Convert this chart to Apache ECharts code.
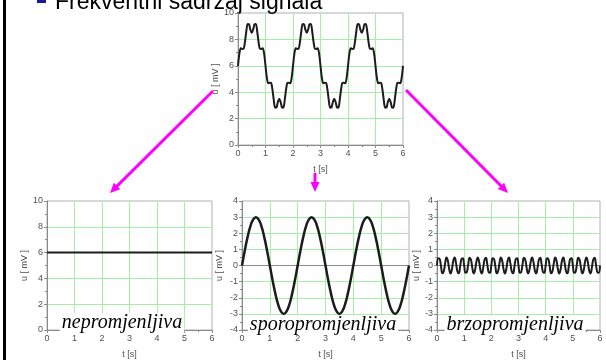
<!DOCTYPE html>
<html>
<head>
<meta charset="utf-8">
<script src="https://cdn.jsdelivr.net/npm/echarts@6/dist/echarts.min.js"></script>
<style>
  html, body { margin: 0; padding: 0; background: #fff; }
  #chart { width: 606px; height: 360px; }
</style>
</head>
<body>
<div id="chart"></div>
<script>
// Composite signal u(t) sampled every 0.05 s, 0..6 s
const compositeStep = 0.05;
const compositeU = [
  6.00, 6.92, 7.33, 7.28, 7.29, 7.77, 8.58, 9.17, 9.15, 8.74, 8.50, 8.74, 9.15, 9.17, 8.58, 7.77, 7.29, 7.28, 7.33, 6.92,
  6.00, 5.08, 4.67, 4.72, 4.71, 4.23, 3.42, 2.83, 2.85, 3.26, 3.50, 3.26, 2.85, 2.83, 3.42, 4.23, 4.71, 4.72, 4.67, 5.08,
  6.00, 6.92, 7.33, 7.28, 7.29, 7.77, 8.58, 9.17, 9.15, 8.74, 8.50, 8.74, 9.15, 9.17, 8.58, 7.77, 7.29, 7.28, 7.33, 6.92,
  6.00, 5.08, 4.67, 4.72, 4.71, 4.23, 3.42, 2.83, 2.85, 3.26, 3.50, 3.26, 2.85, 2.83, 3.42, 4.23, 4.71, 4.72, 4.67, 5.08,
  6.00, 6.92, 7.33, 7.28, 7.29, 7.77, 8.58, 9.17, 9.15, 8.74, 8.50, 8.74, 9.15, 9.17, 8.58, 7.77, 7.29, 7.28, 7.33, 6.92,
  6.00, 5.08, 4.67, 4.72, 4.71, 4.23, 3.42, 2.83, 2.85, 3.26, 3.50, 3.26, 2.85, 2.83, 3.42, 4.23, 4.71, 4.72, 4.67, 5.08,
  6.00
];

// Constant part
const constantT = [0, 6];
const constantU = [6, 6];

// Slow part sampled every 0.1 s
const slowStep = 0.1;
const slowU = [
  0, 0.93, 1.76, 2.43, 2.85, 3, 2.85, 2.43, 1.76, 0.93,
  0, -0.93, -1.76, -2.43, -2.85, -3, -2.85, -2.43, -1.76, -0.93,
  0, 0.93, 1.76, 2.43, 2.85, 3, 2.85, 2.43, 1.76, 0.93,
  0, -0.93, -1.76, -2.43, -2.85, -3, -2.85, -2.43, -1.76, -0.93,
  0, 0.93, 1.76, 2.43, 2.85, 3, 2.85, 2.43, 1.76, 0.93,
  0, -0.93, -1.76, -2.43, -2.85, -3, -2.85, -2.43, -1.76, -0.93,
  0
];

// Fast part sampled every 0.05 s
const fastStep = 0.05;
const fastU = [
  0, 0.45, 0.40, -0.08, -0.48, -0.35, 0.15, 0.49, 0.29, -0.23, -0.50, -0.23, 0.29, 0.49, 0.15, -0.35, -0.48, -0.08, 0.40, 0.45,
  0, -0.45, -0.40, 0.08, 0.48, 0.35, -0.15, -0.49, -0.29, 0.23, 0.50, 0.23, -0.29, -0.49, -0.15, 0.35, 0.48, 0.08, -0.40, -0.45,
  0, 0.45, 0.40, -0.08, -0.48, -0.35, 0.15, 0.49, 0.29, -0.23, -0.50, -0.23, 0.29, 0.49, 0.15, -0.35, -0.48, -0.08, 0.40, 0.45,
  0, -0.45, -0.40, 0.08, 0.48, 0.35, -0.15, -0.49, -0.29, 0.23, 0.50, 0.23, -0.29, -0.49, -0.15, 0.35, 0.48, 0.08, -0.40, -0.45,
  0, 0.45, 0.40, -0.08, -0.48, -0.35, 0.15, 0.49, 0.29, -0.23, -0.50, -0.23, 0.29, 0.49, 0.15, -0.35, -0.48, -0.08, 0.40, 0.45,
  0, -0.45, -0.40, 0.08, 0.48, 0.35, -0.15, -0.49, -0.29, 0.23, 0.50, 0.23, -0.29, -0.49, -0.15, 0.35, 0.48, 0.08, -0.40, -0.45,
  0
];

const titleText = 'Frekventni sadržaj signala';
const panelLabels = ['nepromjenljiva', 'sporopromjenljiva', 'brzopromjenljiva'];
const xName = 't [s]';
const yName = 'u [ mV ]';

const sampled = (values, step) => values.map((v, i) => [+(i * step).toFixed(3), v]);

const GRID_GREEN = '#a6f0a6';
const AXIS_GRAY = '#8a8a8a';
const LABEL_COLOR = '#505050';
const FONT = '"Liberation Sans", Arial, sans-serif';

const grids = [
  { left: 238, top: 13, width: 165, height: 132 },
  { left: 47, top: 201, width: 165, height: 133 },
  { left: 242, top: 201, width: 167, height: 133 },
  { left: 437, top: 201, width: 163, height: 133 }
].map(g => Object.assign({ show: true, borderColor: '#b0b0b0', borderWidth: 1, backgroundColor: 'transparent' }, g));

function xAxisFor(i) {
  return {
    type: 'value', gridIndex: i, min: 0, max: 6, interval: 1,
    name: xName, nameLocation: 'middle', nameGap: 20,
    nameTextStyle: { fontSize: 9, color: LABEL_COLOR, fontFamily: FONT },
    axisLine: { onZero: false, lineStyle: { color: AXIS_GRAY } },
    axisTick: { show: true, length: 3, lineStyle: { color: AXIS_GRAY } },
    minorTick: { show: true, splitNumber: 2, length: 2, lineStyle: { color: AXIS_GRAY } },
    axisLabel: { fontSize: 9, color: LABEL_COLOR, margin: 4, fontFamily: FONT },
    splitLine: { show: true, showMinLine: false, showMaxLine: false, lineStyle: { color: GRID_GREEN, width: 1 } }
  };
}

function yAxisFor(i, min, max, interval, nameGap) {
  return {
    type: 'value', gridIndex: i, min: min, max: max, interval: interval,
    name: yName, nameLocation: 'middle', nameGap: nameGap,
    nameTextStyle: { fontSize: 9, color: LABEL_COLOR, fontFamily: FONT },
    axisLine: { show: true, onZero: false, lineStyle: { color: AXIS_GRAY } },
    axisTick: { show: true, length: 3, lineStyle: { color: AXIS_GRAY } },
    minorTick: { show: true, splitNumber: 2, length: 2, lineStyle: { color: AXIS_GRAY } },
    axisLabel: { fontSize: 9, color: LABEL_COLOR, margin: 4, fontFamily: FONT },
    splitLine: { show: true, showMinLine: false, showMaxLine: false, lineStyle: { color: GRID_GREEN, width: 1 } }
  };
}

function curve(i, data, width, smooth) {
  return {
    type: 'line', xAxisIndex: i, yAxisIndex: i, data: data,
    showSymbol: false, smooth: smooth, animation: false,
    lineStyle: { color: '#1c1c1c', width: width },
    z: 5
  };
}

const zeroLine = {
  silent: true, symbol: 'none', animation: false,
  label: { show: false },
  lineStyle: { color: '#8c8c8c', width: 1, type: 'solid' },
  data: [{ yAxis: 0 }]
};

// Magenta arrow from (x1,y1) to the tip (x2,y2)
function arrow(x1, y1, x2, y2) {
  const dx = x2 - x1, dy = y2 - y1;
  const len = Math.sqrt(dx * dx + dy * dy);
  const ux = dx / len, uy = dy / len;
  const headL = 10, headW = 4.5;
  const bx = x2 - ux * headL, by = y2 - uy * headL;
  return [
    { type: 'line', shape: { x1: x1, y1: y1, x2: bx + ux * 2, y2: by + uy * 2 },
      style: { stroke: '#ff00ff', lineWidth: 3 }, z: 10 },
    { type: 'polygon', shape: { points: [[x2, y2], [bx - uy * headW, by + ux * headW], [bx + uy * headW, by - ux * headW]] },
      style: { fill: '#ff00ff' }, z: 10 }
  ];
}

function panelText(text, cx, cy) {
  return {
    type: 'text', x: cx, y: cy, z: 20,
    style: {
      text: text, fill: '#000', align: 'center', verticalAlign: 'middle',
      font: 'italic 20px "Liberation Serif", "Times New Roman", serif',
      backgroundColor: '#fff', padding: [0, 2]
    }
  };
}

const graphics = [
  { type: 'rect', shape: { x: 3, y: 0, width: 3, height: 360 }, style: { fill: '#000' } },
  { type: 'rect', shape: { x: 37, y: -6, width: 9, height: 9 }, style: { fill: '#1a1a99' } },
  { type: 'text', x: 55, y: 14, style: { text: titleText, fill: '#000', align: 'left', verticalAlign: 'bottom', font: '23px "Liberation Sans", Arial, sans-serif' } },
  ...arrow(213, 91, 110, 193),
  ...arrow(315, 173, 315, 192),
  ...arrow(406, 90, 508, 193),
  panelText(panelLabels[0], 122, 323),
  panelText(panelLabels[1], 323, 325),
  panelText(panelLabels[2], 515, 325)
];

const option = {
  animation: false,
  backgroundColor: '#fff',
  grid: grids,
  xAxis: [xAxisFor(0), xAxisFor(1), xAxisFor(2), xAxisFor(3)],
  yAxis: [
    yAxisFor(0, 0, 10, 2, 16),
    yAxisFor(1, 0, 10, 2, 18),
    yAxisFor(2, -4, 4, 1, 18),
    yAxisFor(3, -4, 4, 1, 16)
  ],
  series: [
    curve(0, sampled(compositeU, compositeStep), 2, 0.3),
    curve(1, constantT.map((t, k) => [t, constantU[k]]), 2, false),
    Object.assign(curve(2, sampled(slowU, slowStep), 2.5, true), { markLine: zeroLine }),
    Object.assign(curve(3, sampled(fastU, fastStep), 2, true), { markLine: zeroLine })
  ],
  graphic: graphics
};

const chart = echarts.init(document.getElementById('chart'), null, { renderer: 'canvas' });
chart.setOption(option);
</script>
</body>
</html>
